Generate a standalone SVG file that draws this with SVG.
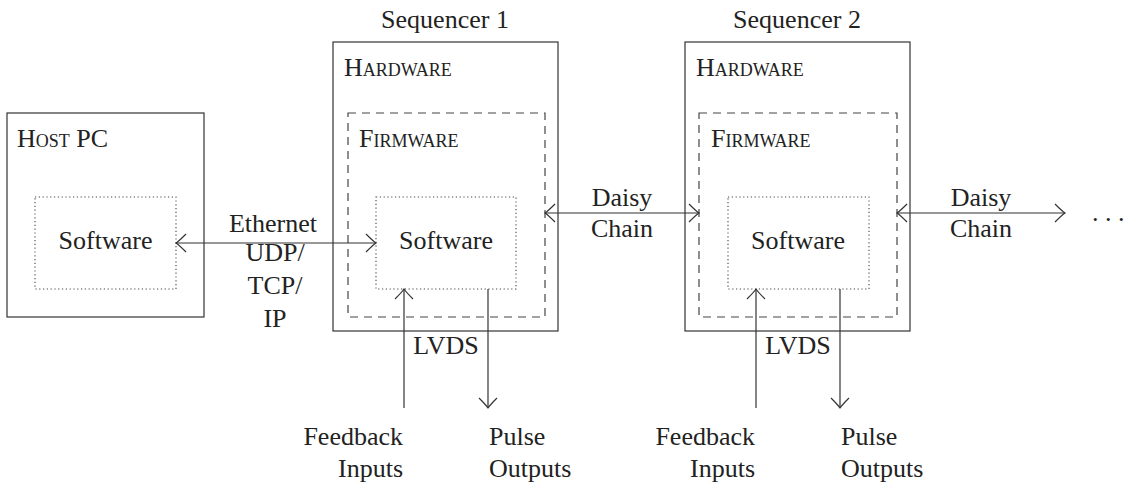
<svg xmlns="http://www.w3.org/2000/svg" width="1125" height="484" viewBox="0 0 1125 484">
  <style>
    text { font-family: "Liberation Serif", "Times New Roman", "DejaVu Serif", serif; font-size: 26px; fill: #222; }
    .sc { font-variant: small-caps; }
    .mid { text-anchor: middle; }
    .end { text-anchor: end; }
    .box { fill: none; stroke: #333; stroke-width: 1.2; }
    .dash { fill: none; stroke: #444; stroke-width: 1.2; stroke-dasharray: 8 6; }
    .dot { fill: none; stroke: #444; stroke-width: 1.1; stroke-dasharray: 1.2 2.6; }
    .wire { fill: none; stroke: #333; stroke-width: 1.2; }
  </style>
  <defs>
    <marker id="tip" viewBox="-12 -10 14 20" refX="0" refY="0" markerWidth="14" markerHeight="20" markerUnits="userSpaceOnUse" orient="auto-start-reverse">
      <path d="M -10 -9 Q -3 -2 0 0 Q -3 2 -10 9" fill="none" stroke="#333" stroke-width="1.2"/>
    </marker>
  </defs>

  <!-- host computer -->
  <g id="host-pc">
    <rect class="box" x="7" y="113" width="197" height="204"/>
    <text class="sc" x="17" y="147">Host PC</text>
  </g>
  <g id="host-software">
    <rect class="dot" x="35" y="197" width="141" height="92"/>
    <text class="mid" x="105.5" y="249">Software</text>
  </g>

  <!-- sequencer 1 -->
  <g id="seq1-hardware">
    <text class="mid" x="445" y="28">Sequencer 1</text>
    <rect class="box" x="333" y="42" width="225" height="289"/>
    <text class="sc" x="344" y="76">Hardware</text>
  </g>
  <g id="seq1-firmware">
    <rect class="dash" x="348" y="113" width="197" height="204"/>
    <text class="sc" x="359" y="147">Firmware</text>
  </g>
  <g id="seq1-software">
    <rect class="dot" x="376" y="197" width="140" height="92"/>
    <text class="mid" x="446" y="249">Software</text>
  </g>

  <!-- sequencer 2 -->
  <g id="seq2-hardware">
    <text class="mid" x="797" y="28">Sequencer 2</text>
    <rect class="box" x="685" y="42" width="225" height="289"/>
    <text class="sc" x="696" y="76">Hardware</text>
  </g>
  <g id="seq2-firmware">
    <rect class="dash" x="699" y="113" width="198" height="204"/>
    <text class="sc" x="711" y="147">Firmware</text>
  </g>
  <g id="seq2-software">
    <rect class="dot" x="728" y="197" width="141" height="92"/>
    <text class="mid" x="798" y="249">Software</text>
  </g>

  <!-- external signal labels -->
  <g id="seq1-feedback"><text class="end" x="403" y="445">Feedback</text><text class="end" x="403" y="477">Inputs</text></g>
  <g id="seq1-pulse"><text x="489" y="445">Pulse</text><text x="489" y="477">Outputs</text></g>
  <g id="seq2-feedback"><text class="end" x="755" y="445">Feedback</text><text class="end" x="755" y="477">Inputs</text></g>
  <g id="seq2-pulse"><text x="841" y="445">Pulse</text><text x="841" y="477">Outputs</text></g>
  <g id="more"><text x="1092" y="221">. . .</text></g>

  <!-- links -->
  <g id="connectors">
    <line class="wire" x1="176" y1="243" x2="376" y2="243" marker-start="url(#tip)" marker-end="url(#tip)"/>
    <line class="wire" x1="545" y1="213" x2="699" y2="213" marker-start="url(#tip)" marker-end="url(#tip)"/>
    <line class="wire" x1="897" y1="213" x2="1065" y2="213" marker-start="url(#tip)" marker-end="url(#tip)"/>
    <line class="wire" x1="404" y1="408" x2="404" y2="289" marker-end="url(#tip)"/>
    <line class="wire" x1="488" y1="289" x2="488" y2="408" marker-end="url(#tip)"/>
    <line class="wire" x1="756" y1="408" x2="756" y2="289" marker-end="url(#tip)"/>
    <line class="wire" x1="840" y1="289" x2="840" y2="408" marker-end="url(#tip)"/>

    <text class="mid" x="273" y="232">Ethernet</text>
    <text class="mid" x="275" y="261">UDP/</text>
    <text class="mid" x="275" y="294">TCP/</text>
    <text class="mid" x="275" y="327">IP</text>

    <text class="mid" x="622" y="206">Daisy</text>
    <text class="mid" x="622" y="237">Chain</text>
    <text class="mid" x="981" y="206">Daisy</text>
    <text class="mid" x="981" y="237">Chain</text>

    <text class="mid" x="446" y="354">LVDS</text>
    <text class="mid" x="798" y="354">LVDS</text>
  </g>
</svg>
